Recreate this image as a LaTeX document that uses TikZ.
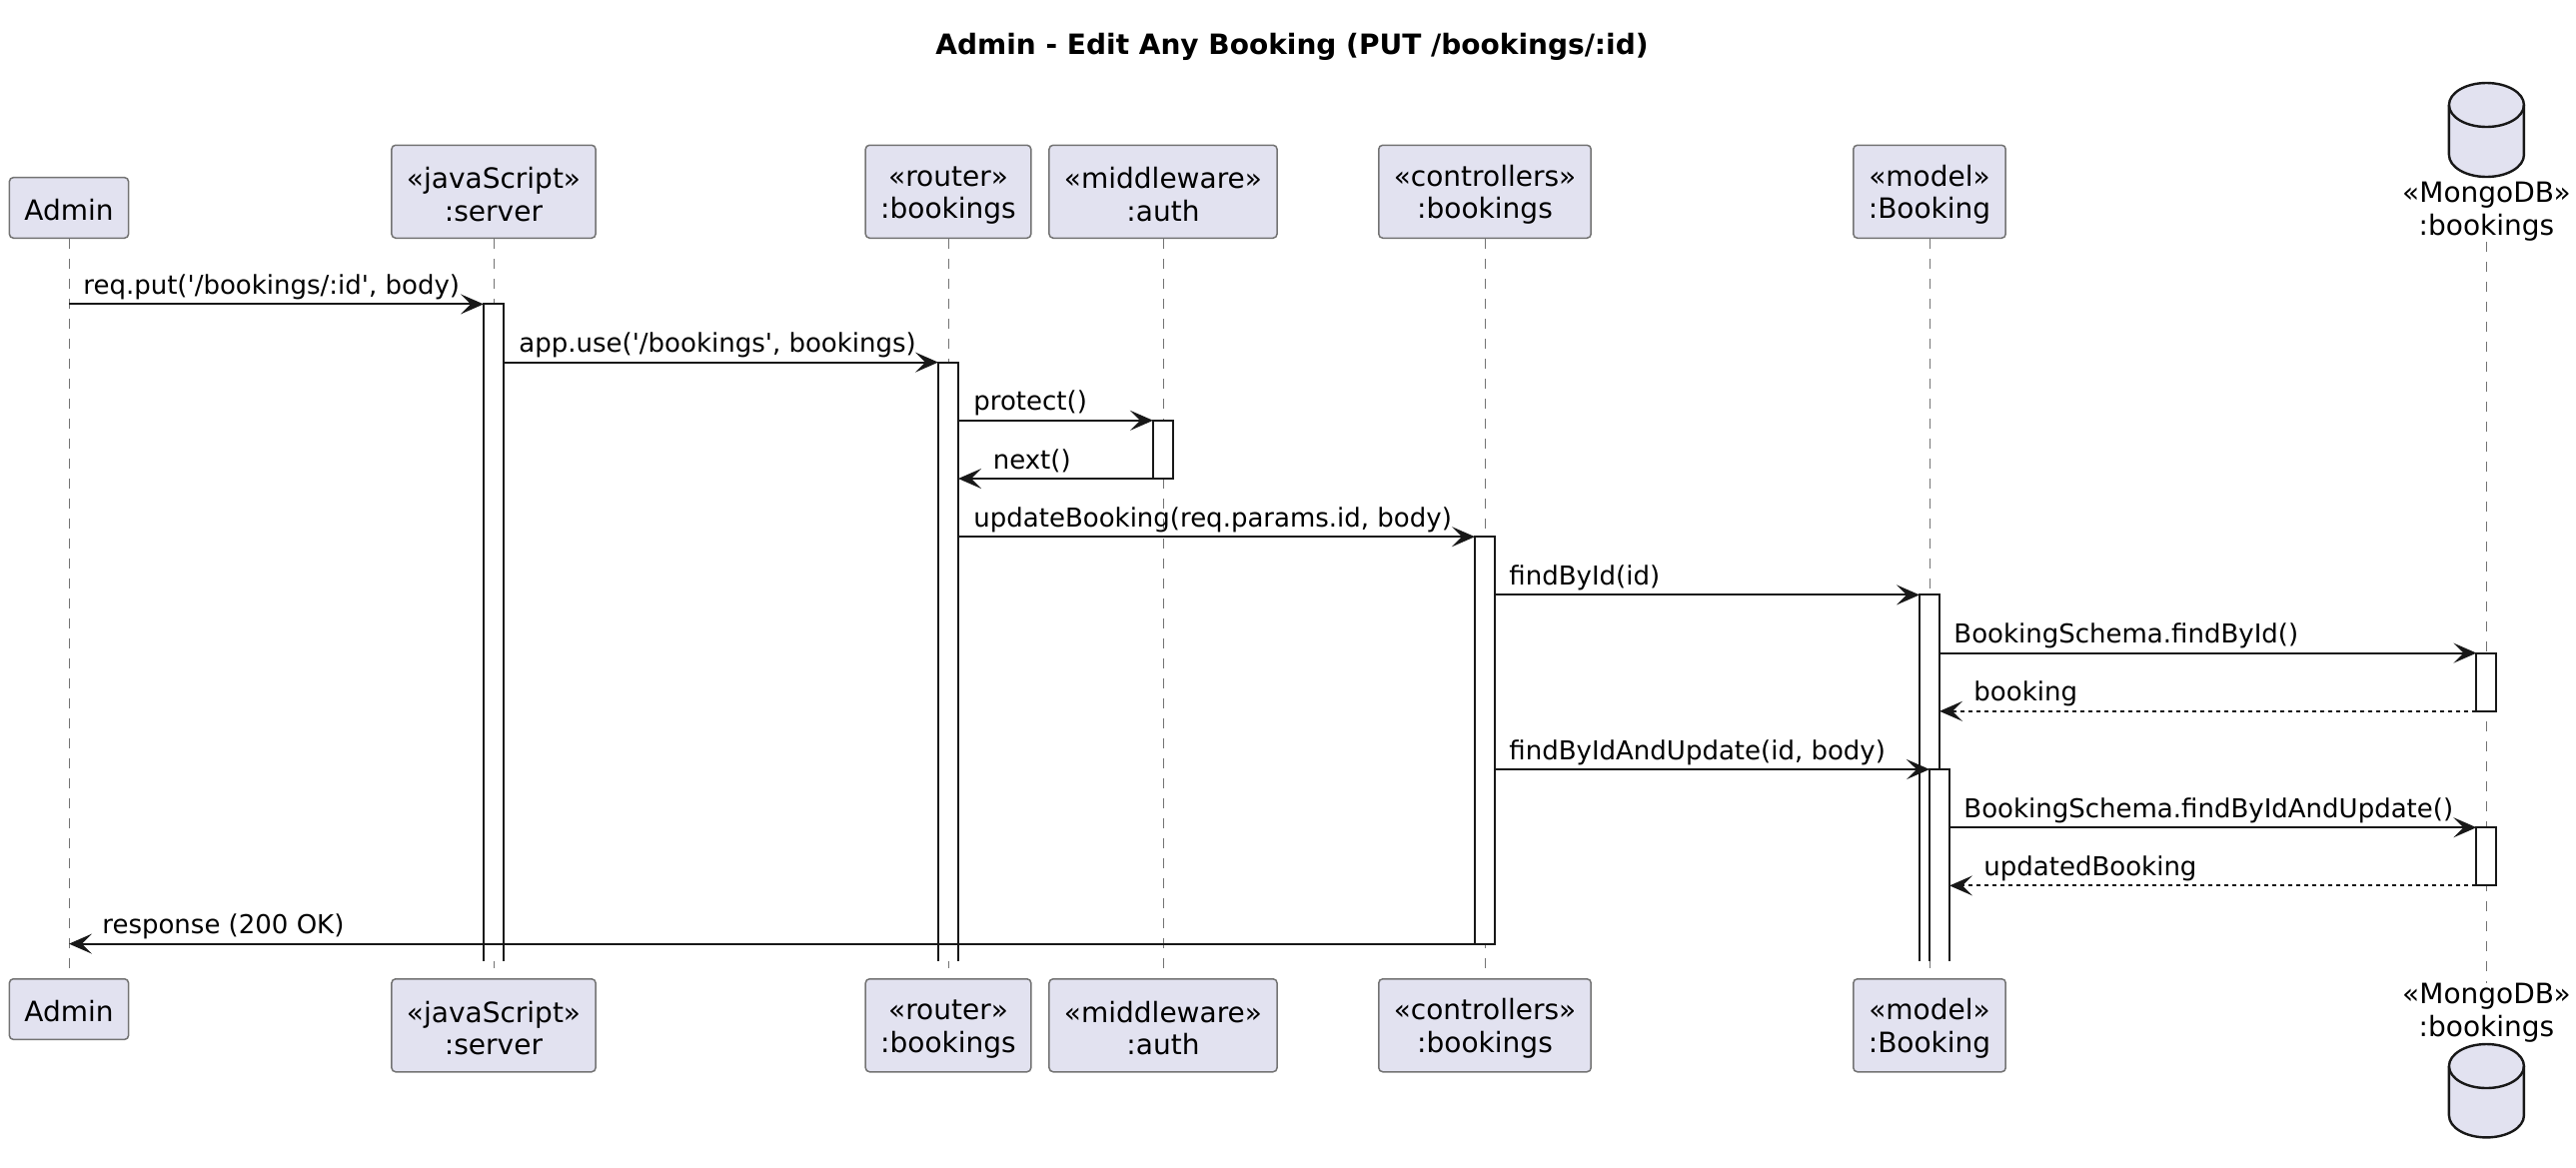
\documentclass[tikz,border=0pt]{standalone}
\usepackage{fontspec}
\setmainfont{DejaVu Sans}
\usetikzlibrary{arrows.meta}
\definecolor{ink}{HTML}{181818}
\definecolor{pfill}{HTML}{E2E2F0}
\newcommand\sq{\textquotesingle}
\newcommand\up{\rule{0pt}{13.6pt}}
\newcommand\dbcyl[3]{%
  \filldraw[db] (#1-18.75,#2+11) -- (#1-18.75,#3-11) arc[start angle=180,end angle=360,x radius=18.75pt,y radius=11pt] -- (#1+18.75,#2+11) arc[start angle=0,end angle=180,x radius=18.75pt,y radius=11pt] -- cycle;
  \draw[db, fill=none] (#1-18.75,#2+11) arc[start angle=180,end angle=360,x radius=18.75pt,y radius=11pt];}
\newcommand\openbar[3]{%
  \fill[white] (#1-5,#2) rectangle (#1+5,#3);
  \draw[draw=ink, line width=1pt] (#1-5,#3) -- (#1-5,#2) -- (#1+5,#2) -- (#1+5,#3);}
\newcommand\closedbar[3]{\filldraw[actbar] (#1-5,#2) rectangle (#1+5,#3);}
\begin{document}
\begin{tikzpicture}[x=1pt,y=-1pt,
  part/.style={draw=black!55, line width=0.75pt, fill=pfill, rounded corners=2pt, inner xsep=7.5pt, inner ysep=0pt, align=center, font=\fontsize{14}{16.2}\selectfont, minimum height=46.5pt},
  partone/.style={part, minimum height=30.3pt},
  dblbl/.style={align=center, font=\fontsize{14}{16.5}\selectfont, inner sep=0pt},
  life/.style={draw=black!55, line width=0.5pt, dash pattern=on 5pt off 5pt},
  actbar/.style={fill=white, draw=ink, line width=1pt},
  msg/.style={draw=ink, line width=1pt, -{Stealth[length=11.5pt,width=10pt,inset=5pt]}},
  ret/.style={msg, dash pattern=on 2pt off 2pt},
  lbl/.style={font=\fontsize{13}{15}\selectfont, inner sep=0pt, anchor=base west},
  db/.style={fill=pfill, draw=ink, line width=1.2pt}]
\useasboundingbox (0,0) rectangle (1289,584);

% title
\node[font=\fontsize{14}{16}\selectfont\bfseries] (title) at (646.5,23.3) {Admin - Edit Any Booking (PUT /bookings/:id)};

% participants top
\node[partone, anchor=south] (adminT) at (34.5,119.5) {\rule{0pt}{12.4pt}Admin};
\node[part, anchor=south] (serverT) at (247,119.5) {\up«javaScript»\\:server};
\node[part, anchor=south] (routerT) at (474.5,119.5) {\up«router»\\:bookings};
\node[part, anchor=south] (authT) at (582,119.5) {\up«middleware»\\:auth};
\node[part, anchor=south] (ctrlT) at (743,119.5) {\up«controllers»\\:bookings};
\node[part, anchor=south] (modelT) at (965.5,119.5) {\up«model»\\:Booking};
\node[dblbl] (dbT) at (1244.2,106) {«MongoDB»\\:bookings};
% participants bottom
\node[partone, anchor=north] (adminB) at (34.5,489.5) {\rule{0pt}{12.4pt}Admin};
\node[part, anchor=north] (serverB) at (247,489.5) {\up«javaScript»\\:server};
\node[part, anchor=north] (routerB) at (474.5,489.5) {\up«router»\\:bookings};
\node[part, anchor=north] (authB) at (582,489.5) {\up«middleware»\\:auth};
\node[part, anchor=north] (ctrlB) at (743,489.5) {\up«controllers»\\:bookings};
\node[part, anchor=north] (modelB) at (965.5,489.5) {\up«model»\\:Booking};
\node[dblbl] (dbB) at (1244.2,507) {«MongoDB»\\:bookings};

% lifelines
\draw[life] (adminT.south) -- (adminB.north);
\draw[life] (serverT.south) -- (serverB.north);
\draw[life] (routerT.south) -- (routerB.north);
\draw[life] (authT.south) -- (authB.north);
\draw[life] (ctrlT.south) -- (ctrlB.north);
\draw[life] (modelT.south) -- (modelB.north);
\draw[life] (dbT.south) -- (dbB.north);

% database symbols
\dbcyl{1244.2}{41.5}{88.5}
\dbcyl{1244.2}{522.5}{569.2}

% activation bars
\openbar{247}{152.2}{480.8}
\openbar{474.5}{181.3}{480.8}
\closedbar{582}{210.4}{239.5}
\closedbar{743}{268.6}{472.3}
\openbar{965.5}{297.7}{480.8}
\openbar{970.5}{385}{480.8}
\closedbar{1244.2}{326.8}{355.9}
\closedbar{1244.2}{414.1}{443.2}

% messages
\coordinate (m1a) at (34.5,152.2); \coordinate (m1b) at (242,152.2);
\draw[msg] (m1a) -- (m1b);
\node[lbl] (l1) at (41.5,147.2) {req.put(\sq/bookings/:id\sq, body)};

\coordinate (m2a) at (252,181.3); \coordinate (m2b) at (469.5,181.3);
\draw[msg] (m2a) -- (m2b);
\node[lbl] (l2) at (259.5,176.3) {app.use(\sq/bookings\sq, bookings)};

\coordinate (m3a) at (479.5,210.4); \coordinate (m3b) at (577,210.4);
\draw[msg] (m3a) -- (m3b);
\node[lbl] (l3) at (487,205.4) {protect()};

\coordinate (m4a) at (577,239.5); \coordinate (m4b) at (479.5,239.5);
\draw[msg] (m4a) -- (m4b);
\node[lbl] (l4) at (496.7,234.5) {next()};

\coordinate (m5a) at (479.5,268.6); \coordinate (m5b) at (738,268.6);
\draw[msg] (m5a) -- (m5b);
\node[lbl] (l5) at (487,263.6) {updateBooking(req.params.id, body)};

\coordinate (m6a) at (748,297.7); \coordinate (m6b) at (960.5,297.7);
\draw[msg] (m6a) -- (m6b);
\node[lbl] (l6) at (755,292.7) {findById(id)};

\coordinate (m7a) at (970.5,326.8); \coordinate (m7b) at (1239.2,326.8);
\draw[msg] (m7a) -- (m7b);
\node[lbl] (l7) at (977.5,321.8) {BookingSchema.findById()};

\coordinate (m8a) at (1239.2,355.9); \coordinate (m8b) at (970.5,355.9);
\draw[ret] (m8a) -- (m8b);
\node[lbl] (l8) at (987.5,350.9) {booking};

\coordinate (m9a) at (748,385); \coordinate (m9b) at (965.5,385);
\draw[msg] (m9a) -- (m9b);
\node[lbl] (l9) at (755,380) {findByIdAndUpdate(id, body)};

\coordinate (m10a) at (975.5,414.1); \coordinate (m10b) at (1239.2,414.1);
\draw[msg] (m10a) -- (m10b);
\node[lbl] (l10) at (982.5,409.1) {BookingSchema.findByIdAndUpdate()};

\coordinate (m11a) at (1239.2,443.2); \coordinate (m11b) at (975.5,443.2);
\draw[ret] (m11a) -- (m11b);
\node[lbl] (l11) at (992.5,438.2) {updatedBooking};

\coordinate (m12a) at (738,472.3); \coordinate (m12b) at (34.5,472.3);
\draw[msg] (m12a) -- (m12b);
\node[lbl] (l12) at (51,467.3) {response (200 OK)};
\end{tikzpicture}
\end{document}
